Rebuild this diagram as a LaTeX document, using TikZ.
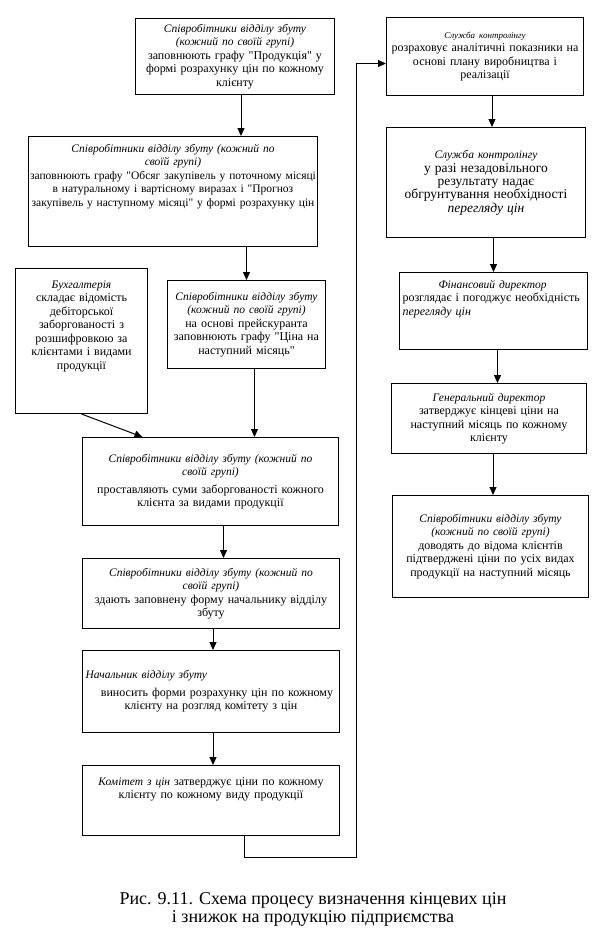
\documentclass[tikz,border=0pt]{standalone}
\usepackage{fontspec}
\setmainfont{Liberation Serif}[Ligatures=TeXOff]
\usetikzlibrary{arrows.meta}
\newcommand{\hd}[1]{{\fontsize{11.5}{13}\selectfont\itshape #1}}

\begin{document}
\begin{tikzpicture}[x=1pt,y=1pt,
  box/.style={draw, line width=1pt, anchor=north west, align=center, inner xsep=3pt, inner ysep=2pt, font=\fontsize{12}{13.5}\selectfont},
  toppad/.style={execute at end node={\endgraf\vspace*{#1}}},
  arr/.style={line width=1pt, -{Triangle[length=8pt,width=7pt]}}]
\useasboundingbox (0,0) rectangle (600,-951);
\node [box, text width=193pt, minimum height=76pt] (sales1) at (135,-18) {\hd{Співробітники відділу збуту\\(кожний по своїй групі)}\\заповнюють графу "Продукція" у\\формі розрахунку цін по кожному\\клієнту};
\node [box, text width=287pt, inner xsep=1pt, minimum height=110pt, toppad=30pt, font=\fontsize{11.5}{13.5}\selectfont] (sales2) at (28,-136) {\hd{Співробітники відділу збуту (кожний по\\своїй групі)}\\заповнюють графу "Обсяг закупівель у поточному місяці\\в натуральному і вартісному виразах і "Прогноз\\закупівель у наступному місяці" у формі розрахунку цін};
\node [box, text width=126pt, minimum height=145pt, toppad=30pt] (account) at (15,-268) {\hd{Бухгалтерія}\\складає відомість\\дебіторської\\заборгованості з\\розшифровкою за\\клієнтами і видами\\продукції};
\node [box, text width=152pt, minimum height=88pt] (sales3) at (167,-280) {\hd{Співробітники відділу збуту\\(кожний по своїй групі)}\\на основі прейскуранта\\заповнюють графу "Ціна на\\наступний місяць"};
\node [box, text width=250pt, minimum height=88pt] (sales4) at (82,-437) {\hd{Співробітники відділу збуту (кожний по\\своїй групі)}\\[4pt]проставляють суми заборгованості кожного\\клієнта за видами продукції};
\node [box, text width=251pt, minimum height=70pt] (sales5) at (82,-558) {\hd{Співробітники відділу збуту (кожний по\\своїй групі)}\\здають заповнену форму начальнику відділу\\збуту};
\node [box, text width=251pt, minimum height=82pt] (head) at (82,-650) {\makebox[\linewidth][l]{\hd{Начальник відділу збуту}}\\[4pt]\hspace*{12pt}виносить форми розрахунку цін по кожному\\клієнту на розгляд комітету з цін};
\node [box, text width=251pt, minimum height=70pt, toppad=22pt] (committee) at (82,-765) {\hd{Комітет з цін} затверджує ціни по кожному\\клієнту по кожному виду продукції};
\node [box, text width=191pt, minimum height=78pt] (control1) at (386,-17) {{\fontsize{9}{12}\selectfont\itshape Служба контролінгу}\\розраховує аналітичні показники на\\основі плану виробництва і\\реалізації};
\node [box, text width=193pt, minimum height=110pt] (control2) at (386,-127) {\hd{Служба контролінгу}\\[2pt]{\fontsize{13.5}{12.5}\selectfont у разі незадовільного\\результату надає\\обгрунтування необхідності\\\textit{перегляду цін}}};
\node [box, text width=182pt, minimum height=77pt, align=left, toppad=24pt] (findir) at (399,-272) {\hspace*{36pt}\hd{Фінансовий директор}\\розглядає і погоджує необхідність\\\textit{перегляду цін}};
\node [box, text width=189pt, minimum height=70pt] (gendir) at (391,-383) {\hd{Генеральний директор}\\затверджує кінцеві ціни на\\наступний місяць по кожному\\клієнту};
\node [box, text width=190pt, minimum height=102pt] (sales6) at (392,-495) {\hd{Співробітники відділу збуту\\(кожний по своїй групі)}\\доводять до відома клієнтів\\підтверджені ціни по усіх видах\\продукції на наступний місяць};
\node [align=center, font=\fontsize{18}{18}\selectfont] (caption) at (313,-909) {Рис. 9.11. Схема процесу визначення кінцевих цін\\і знижок на продукцію підприємства};
\coordinate (bend) at (356,-857);
\draw [arr] ([xshift=6pt]sales1.south) -- ([xshift=6pt]sales1.south |- sales2.north);
\draw [arr] (sales3.north |- sales2.south) -- (sales3.north);
\draw [arr] ([xshift=8pt]sales3.south) -- ([xshift=8pt]sales3.south |- sales4.north);
\draw [arr] (account.south) -- ([xshift=-68pt]sales4.north);
\draw [arr] ([xshift=13pt]sales4.south) -- ([xshift=13pt]sales4.south |- sales5.north);
\draw [arr] ([xshift=2pt]sales5.south) -- ([xshift=2pt]sales5.south |- head.north);
\draw [arr] ([xshift=2pt]head.south) -- ([xshift=2pt]head.south |- committee.north);
\draw [arr] ([xshift=33pt]committee.south) |- (bend) |- ([yshift=-7pt]control1.west);
\draw [arr] ([xshift=7pt]control1.south) -- ([xshift=7pt]control1.south |- control2.north);
\draw [arr] (findir.north |- control2.south) -- (findir.north);
\draw [arr] ([xshift=4pt]findir.south) -- ([xshift=4pt]findir.south |- gendir.north);
\draw [arr] ([xshift=4pt]gendir.south) -- ([xshift=4pt]gendir.south |- sales6.north);
\end{tikzpicture}
\end{document}
